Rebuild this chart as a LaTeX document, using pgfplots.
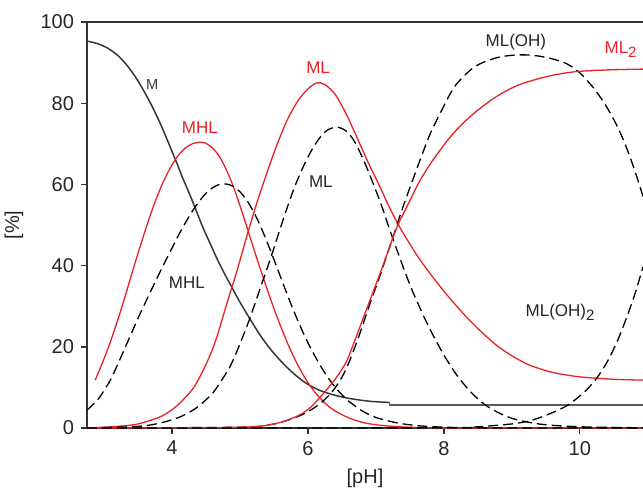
\documentclass[border=0pt]{standalone}
\usepackage{pgfplots}
\pgfplotsset{compat=1.18}
\usepackage{fontspec}
\setmainfont{Liberation Sans}
\definecolor{cred}{RGB}{235,32,38}
\definecolor{cgray}{RGB}{55,55,55}
\definecolor{cax}{RGB}{50,50,50}
\newcommand{\sub}[1]{\raisebox{-0.45ex}{\fontsize{7.5}{9}\selectfont #1}}
\begin{document}
\begin{tikzpicture}
\begin{axis}[
  scale only axis, width=278pt, height=203pt,
  xmin=2.75, xmax=10.93, ymin=0, ymax=100,
  axis x line=box, axis y line=left,
  x axis line style={-}, y axis line style={-},
  axis line style={cax, line width=0.8pt},
  xtick={4,6,8,10}, ytick={0,20,40,60,80,100},
  xtick pos=bottom, ytick pos=left,
  tick align=outside, major tick length=3pt,
  tick style={cax, line width=0.7pt},
  minor tick num=0,
  ticklabel style={font=\fontsize{10}{12}\selectfont, text=black!85},
  /pgf/number format/assume math mode=true,
  clip=true,
]
% M
\addplot[cgray, line width=0.75pt, smooth] coordinates {
(2.75,95.3) (2.9,94.7) (3.05,93.6) (3.2,91.8) (3.33,89.5) (3.45,86.8) (3.57,83.5)
(3.7,79.5) (3.82,75.3) (3.95,70.2) (4.07,65.3) (4.16,61.5) (4.26,57.6) (4.36,53.4)
(4.45,49.6) (4.56,45.5) (4.66,41.8) (4.77,38.1) (4.88,34.7) (5.0,31) (5.15,26.8)
(5.3,22.8) (5.44,19.6) (5.59,16.7) (5.72,14.5) (5.84,12.7) (5.95,11.3) (6.07,10.1)
(6.2,9.1) (6.35,8.3) (6.57,7.4) (6.9,6.6) (7.2,6.3)};
\addplot[black!65, line width=0.95pt] coordinates {(7.2,6.3) (7.2,5.6) (10.93,5.6)};
% MHL red
\addplot[cred, line width=0.65pt, smooth] coordinates {
(2.87,11.8) (3.0,17) (3.1,21.5) (3.2,26.5) (3.3,31.8) (3.4,37.5) (3.5,43) (3.6,48.3)
(3.7,53.3) (3.8,57.8) (3.9,61.6) (4.0,64.8) (4.1,67.3) (4.2,69) (4.3,70) (4.42,70.4)
(4.5,70.1) (4.6,68.9) (4.7,66.8) (4.8,63.6) (4.9,59.6) (5.0,54.8) (5.1,49.6)
(5.2,44.3) (5.3,39.2) (5.4,34.2) (5.5,29.4) (5.6,25) (5.7,20.9) (5.8,17.2) (5.9,14)
(6.0,11.2) (6.1,8.9) (6.2,7) (6.3,5.4) (6.4,4.2) (6.6,2.5) (6.8,1.4) (7.0,0.8)
(7.3,0.35) (7.7,0.1) (8.5,0) (10.93,0)};
% MHL dashed
\addplot[black, line width=0.65pt, dash pattern=on 5pt off 2.5pt, smooth] coordinates {
(2.75,4.4) (2.9,6.8) (3.0,9.2) (3.1,12) (3.2,15.6) (3.3,19.4) (3.4,23.2) (3.5,27)
(3.6,30.6) (3.7,34.1) (3.8,37.6) (3.9,41) (4.0,44.3) (4.1,47.6) (4.2,50.6) (4.3,53.4)
(4.4,55.8) (4.5,57.8) (4.6,59.2) (4.7,60) (4.8,60.1) (4.9,59.5) (5.0,58.2) (5.1,56.1)
(5.2,53.3) (5.3,49.8) (5.4,45.8) (5.5,41.5) (5.6,37.1) (5.7,32.7) (5.8,28.5) (5.9,24.6)
(6.0,21) (6.1,17.8) (6.2,14.9) (6.3,12.3) (6.4,10.1) (6.5,8.2) (6.6,6.6) (6.8,4.2)
(7.0,2.6) (7.3,1.3) (7.6,0.6) (8.0,0.2) (8.5,0.05) (9.0,0) (10.93,0)};
% ML red
\addplot[cred, line width=0.65pt, smooth] coordinates {
(2.75,0) (3.2,0.4) (3.5,1) (3.82,2.7) (4.0,4.5) (4.12,6.2) (4.3,9.5) (4.41,12.6)
(4.55,17.5) (4.66,22.4) (4.81,30.8) (4.96,38.9) (5.1,47.2) (5.25,55.5) (5.4,63)
(5.55,70) (5.7,76) (5.85,80.5) (6.0,83.5) (6.13,85) (6.25,84.6) (6.4,82.2) (6.55,77.8)
(6.7,72.4) (6.87,66) (7.06,59.4) (7.2,54.3) (7.35,49.5) (7.5,45.3) (7.65,41.4)
(7.8,38) (8.0,33.7) (8.28,28.3) (8.5,24.5) (8.78,20.3) (9.0,17.8) (9.26,15.5)
(9.6,13.7) (10.0,12.6) (10.5,12.0) (10.93,11.8)};
% ML dashed
\addplot[black, line width=0.65pt, dash pattern=on 5pt off 2.5pt, smooth] coordinates {
(2.75,0) (3.5,0.4) (3.82,1.2) (4.1,2.6) (4.31,4.4) (4.45,6.2) (4.6,8.6) (4.72,11.5)
(4.85,15) (4.95,18.7) (5.04,22.4) (5.15,27.2) (5.29,34) (5.4,39.3) (5.5,44.3)
(5.6,49.5) (5.7,54.5) (5.8,59.2) (5.9,63.2) (6.0,66.7) (6.1,69.7) (6.2,72) (6.3,73.5)
(6.43,74.1) (6.55,73.3) (6.65,71.5) (6.75,68.5) (6.87,64) (7.0,58.5) (7.1,54)
(7.2,49) (7.35,42) (7.5,35.3) (7.65,29.5) (7.8,24.2) (8.0,18) (8.2,12.8) (8.4,8.8)
(8.6,5.8) (8.8,3.8) (9.0,2.4) (9.22,1.5) (9.5,0.8) (10.0,0.3) (10.93,0.05)};
% ML(OH) dashed
\addplot[black, line width=0.65pt, dash pattern=on 5pt off 2.5pt, smooth] coordinates {
(2.75,0) (5.0,0.2) (5.5,1) (5.8,2.5) (6.0,4) (6.2,6.3) (6.37,9.2) (6.5,12.5) (6.6,16)
(6.7,20.3) (6.8,25) (6.91,30.5) (7.06,37.5) (7.16,42.5) (7.3,49.5) (7.4,54.5)
(7.54,61) (7.65,66) (7.8,72.5) (7.99,79) (8.1,82.5) (8.2,85) (8.4,88.3) (8.57,90)
(8.8,91.3) (9.0,91.8) (9.2,91.9) (9.4,91.6) (9.6,90.9) (9.81,89.7) (10.0,87.5)
(10.19,84) (10.35,80.3) (10.49,76.3) (10.62,71.8) (10.74,66.7) (10.85,61.3) (10.93,57)};
% ML2 red
\addplot[cred, line width=0.65pt, smooth] coordinates {
(2.75,0) (5.0,0.2) (5.5,1) (5.8,2.6) (6.0,4.5) (6.18,7.6) (6.4,12) (6.57,16.5)
(6.7,22) (6.88,30) (7.06,38) (7.2,44.5) (7.31,49.5) (7.5,56) (7.65,61) (7.84,66)
(8.1,71.8) (8.34,76) (8.6,79.6) (8.82,82.1) (9.1,84.5) (9.5,86.5) (9.9,87.7)
(10.4,88.2) (10.93,88.4)};
% ML(OH)2 dashed
\addplot[black, line width=0.65pt, dash pattern=on 5pt off 2.5pt, smooth] coordinates {
(2.75,0) (8.0,0.05) (8.5,0.3) (8.8,0.7) (9.0,1.0) (9.22,1.6) (9.4,2.5) (9.6,3.8)
(9.8,5.4) (9.95,7.2) (10.1,9.4) (10.25,12.3) (10.4,16.2) (10.55,21.3) (10.7,27.7)
(10.82,33.5) (10.93,39.7)};
% labels
\node[text=cgray, font=\fontsize{7.3}{9}\selectfont] at (axis cs:3.71,84.7) {M};
\node[text=cred, font=\fontsize{8.5}{10}\selectfont] at (axis cs:4.41,73.9) {MHL};
\node[text=cred, font=\fontsize{8.5}{10}\selectfont] at (axis cs:6.15,88.7) {ML};
\node[text=black!85, font=\fontsize{8.5}{10}\selectfont] at (axis cs:9.06,95.1) {ML(OH)};
\node[text=cred, font=\fontsize{8.5}{10}\selectfont] at (axis cs:10.6,93.1) {ML\sub{2}};
\node[text=black!85, font=\fontsize{8.5}{10}\selectfont] at (axis cs:4.22,35.7) {MHL};
\node[text=black!85, font=\fontsize{8.5}{10}\selectfont] at (axis cs:6.19,60.6) {ML};
\node[text=black!85, font=\fontsize{8.5}{10}\selectfont] at (axis cs:9.71,28.6) {ML(OH)\sub{2}};
\end{axis}
\node[text=black!85, font=\fontsize{10}{12}\selectfont] at ([yshift=-25pt]current axis.south) {[pH]};
\node[text=black!85, font=\fontsize{10}{12}\selectfont, rotate=90] at ([xshift=-36.5pt]current axis.west) {[\%]};
\pgfresetboundingbox
\path[use as bounding box] ([xshift=-43.5pt,yshift=-30.5pt]current axis.south west) rectangle ([yshift=11pt]current axis.north east);
\end{tikzpicture}
\end{document}
